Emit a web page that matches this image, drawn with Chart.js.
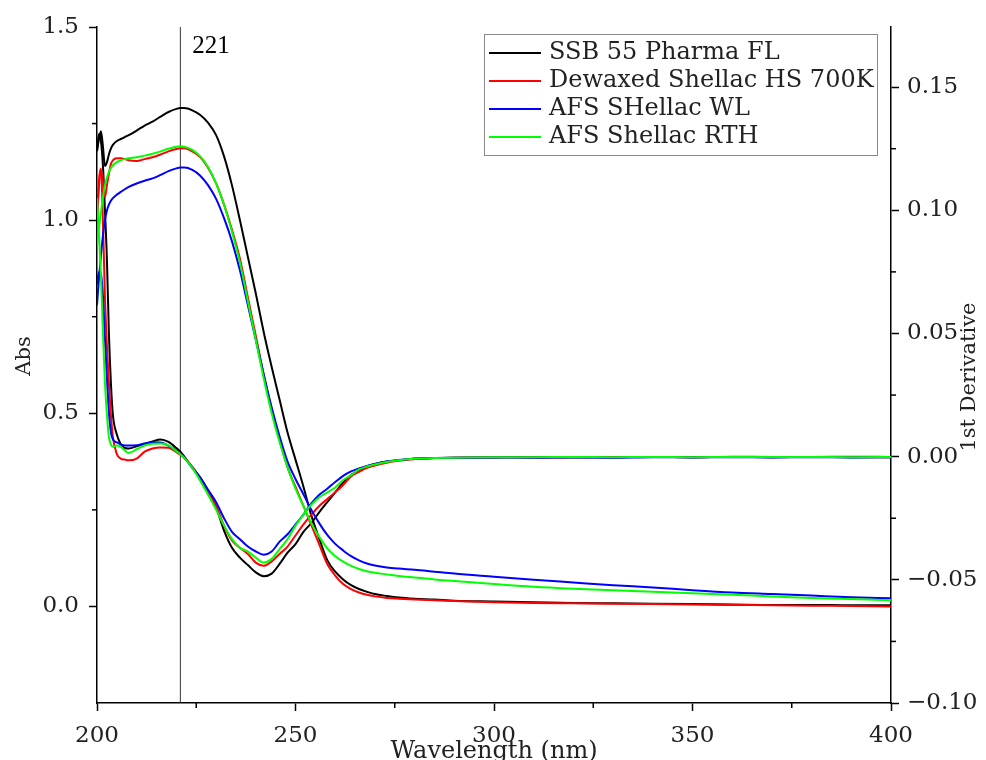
<!DOCTYPE html>
<html>
<head>
<meta charset="utf-8">
<script src="https://cdn.jsdelivr.net/npm/chart.js@4.4.0/dist/chart.umd.min.js"></script>
<style>
body{margin:0;background:#fff}
#wrap{width:986px;height:760px;position:relative}
</style>
</head>
<body>
<div id="wrap"><canvas id="myChart"></canvas></div>
<script>

// wavelength grid (nm), shared by all curves
const wavelength=[200,200.5,201,201.5,202,202.5,203,203.5,204,205,206,207,208,210,212,214,216,218,220,221,222,224,226,228,230,232,234,236,238,240,242,244,246,248,250,252,254,256,258,260,262,264,266,268,270,273,276,280,285,290,300,310,320,330,340,350,360,370,380,390,400]

// absorbance (left axis)
const absSSB=[1.18,1.21,1.23,1.19,1.14,1.15,1.17,1.185,1.195,1.205,1.21,1.215,1.22,1.232,1.245,1.255,1.268,1.28,1.288,1.29,1.29,1.284,1.272,1.252,1.22,1.165,1.09,1.0,0.905,0.81,0.71,0.62,0.535,0.45,0.38,0.31,0.235,0.175,0.12,0.09,0.07,0.055,0.045,0.038,0.032,0.027,0.023,0.02,0.018,0.015,0.013,0.011,0.009,0.008,0.007,0.006,0.005,0.004,0.004,0.003,0.003]
const absDewaxed=[1.0,1.09,1.13,1.1,1.06,1.09,1.12,1.145,1.155,1.16,1.16,1.158,1.155,1.153,1.158,1.163,1.17,1.178,1.184,1.186,1.186,1.178,1.163,1.135,1.095,1.04,0.975,0.9,0.8,0.7,0.6,0.51,0.43,0.36,0.31,0.26,0.21,0.16,0.11,0.08,0.058,0.045,0.036,0.03,0.026,0.022,0.02,0.018,0.016,0.014,0.011,0.009,0.008,0.007,0.006,0.005,0.004,0.003,0.002,0.001,0.0]
const absWL=[0.78,0.85,0.91,0.96,1.0,1.025,1.04,1.05,1.057,1.066,1.073,1.08,1.086,1.095,1.102,1.108,1.117,1.127,1.134,1.136,1.136,1.13,1.115,1.09,1.055,1.005,0.945,0.87,0.78,0.69,0.6,0.515,0.44,0.375,0.33,0.29,0.25,0.215,0.185,0.162,0.145,0.13,0.119,0.111,0.106,0.101,0.098,0.095,0.09,0.085,0.077,0.069,0.062,0.055,0.049,0.042,0.036,0.032,0.028,0.024,0.021]
const absRTH=[0.93,0.98,1.02,1.06,1.09,1.11,1.125,1.135,1.142,1.15,1.155,1.158,1.16,1.163,1.167,1.172,1.178,1.185,1.19,1.191,1.19,1.182,1.165,1.137,1.095,1.04,0.97,0.89,0.79,0.69,0.59,0.5,0.425,0.36,0.305,0.26,0.215,0.18,0.15,0.13,0.116,0.105,0.097,0.091,0.087,0.083,0.079,0.075,0.07,0.066,0.058,0.051,0.046,0.042,0.038,0.034,0.03,0.026,0.022,0.019,0.016]

// 1st derivative (right axis)
const derSSB=[0.124,0.131,0.128,0.118,0.1,0.08,0.05,0.03,0.017,0.009,0.005,0.0035,0.0033,0.0042,0.0052,0.0062,0.007,0.006,0.0035,0.002,0.0,-0.0045,-0.0085,-0.014,-0.0205,-0.03,-0.037,-0.041,-0.044,-0.047,-0.0485,-0.0475,-0.0435,-0.039,-0.0355,-0.0305,-0.027,-0.0225,-0.0185,-0.0145,-0.0105,-0.0075,-0.0055,-0.004,-0.003,-0.002,-0.0015,-0.0008,-0.0006,-0.0004,-0.0003,-0.0002,-0.0003,-0.0002,-0.0001,-0.0002,-0.0001,-0.0002,-0.0001,-0.0002,-0.0002]
const derDewaxed=[0.095,0.112,0.117,0.095,0.065,0.045,0.03,0.017,0.008,0.001,-0.0008,-0.0012,-0.0015,-0.0008,0.002,0.0033,0.0037,0.0036,0.0018,0.0008,-0.0005,-0.004,-0.0088,-0.0145,-0.02,-0.028,-0.034,-0.037,-0.0395,-0.043,-0.0443,-0.0425,-0.0395,-0.0365,-0.032,-0.0275,-0.0235,-0.02,-0.0172,-0.0145,-0.0115,-0.008,-0.0062,-0.0045,-0.0036,-0.0025,-0.0016,-0.001,-0.0006,-0.0004,-0.0002,-0.0003,-0.0001,-0.0002,-0.0001,-0.0002,0.0,-0.0001,-0.0001,0.0,-0.0001]
const derWL=[0.07,0.075,0.074,0.065,0.048,0.032,0.018,0.01,0.007,0.0058,0.005,0.0045,0.0045,0.0046,0.0053,0.0058,0.0057,0.0045,0.0025,0.0012,-0.0005,-0.0045,-0.0085,-0.0135,-0.0185,-0.025,-0.0305,-0.0335,-0.0365,-0.0385,-0.0398,-0.0385,-0.0345,-0.0315,-0.0275,-0.0235,-0.019,-0.0155,-0.013,-0.0103,-0.0078,-0.006,-0.0048,-0.0038,-0.003,-0.002,-0.0014,-0.0009,-0.0006,-0.0004,-0.0003,-0.0004,-0.0002,-0.0004,-0.0002,-0.0003,-0.0002,-0.0003,-0.0002,-0.0003,-0.0002]
const derRTH=[0.105,0.09,0.073,0.05,0.03,0.017,0.008,0.005,0.004,0.0045,0.004,0.0025,0.0015,0.003,0.0045,0.0052,0.0053,0.0046,0.0022,0.001,-0.0005,-0.0045,-0.0098,-0.0155,-0.0215,-0.028,-0.0335,-0.037,-0.0385,-0.041,-0.043,-0.0415,-0.0375,-0.0335,-0.028,-0.0235,-0.0195,-0.0165,-0.0145,-0.0125,-0.0095,-0.0075,-0.0052,-0.004,-0.0032,-0.0022,-0.0015,-0.0009,-0.0006,-0.0004,-0.0002,-0.0002,-0.0001,-0.0002,-0.0001,-0.0002,-0.0001,-0.0001,-0.0001,-0.0002,-0.0001]

const nombres=['SSB 55 Pharma FL','Dewaxed Shellac HS 700K','AFS SHellac WL','AFS Shellac RTH']
const colores=['#000000','#ff0000','#0000ff','#00ff00']
const marca=221

const fuente='"DejaVu Serif", serif'

function puntos(arr){
  return wavelength.map((w,i)=>({x:w,y:arr[i]}))
}

function serie(arr,i,eje){
  return {
    label:nombres[i],
    data:puntos(arr),
    borderColor:colores[i],
    backgroundColor:colores[i],
    borderWidth:2,
    pointRadius:0,
    cubicInterpolationMode:'monotone',
    yAxisID:eje,
    order:4-i
  }
}

const extras={
  id:'extras',
  beforeDatasetsDraw(chart){
    const ctx=chart.ctx
    const a=chart.chartArea
    const px=chart.scales.x.getPixelForValue(marca)
    ctx.save()
    ctx.strokeStyle='#333'
    ctx.lineWidth=1
    ctx.beginPath()
    ctx.moveTo(px,a.top)
    ctx.lineTo(px,a.bottom)
    ctx.stroke()
    ctx.fillStyle='#000'
    ctx.font='25px "Liberation Serif", serif'
    ctx.textAlign='left'
    ctx.textBaseline='middle'
    ctx.fillText(String(marca),px+12,a.top+19)
    ctx.restore()
  },
  afterDraw(chart){
    const ctx=chart.ctx
    const a=chart.chartArea
    ctx.save()

    // minor ticks (half way between major ones)
    ctx.strokeStyle='#000'
    ctx.lineWidth=1.5
    const menores=(sc,dibuja)=>{
      for(let k=0;k<sc.ticks.length-1;k++){
        const v=(sc.ticks[k].value+sc.ticks[k+1].value)/2
        dibuja(sc.getPixelForValue(v))
      }
    }
    menores(chart.scales.x,p=>{ctx.beginPath();ctx.moveTo(p,a.bottom);ctx.lineTo(p,a.bottom+5);ctx.stroke()})
    menores(chart.scales.yAbs,p=>{ctx.beginPath();ctx.moveTo(a.left,p);ctx.lineTo(a.left-5,p);ctx.stroke()})
    menores(chart.scales.yDer,p=>{ctx.beginPath();ctx.moveTo(a.right,p);ctx.lineTo(a.right+5,p);ctx.stroke()})

    // legend box
    const bx=a.right-407, by=a.top+7, bw=393, bh=121
    ctx.fillStyle='#fff'
    ctx.fillRect(bx,by,bw,bh)
    ctx.strokeStyle='#8a8a8a'
    ctx.lineWidth=1
    ctx.strokeRect(bx+0.5,by+0.5,bw,bh)
    ctx.font='24px '+fuente
    ctx.textBaseline='middle'
    ctx.textAlign='left'
    for(let i=0;i<nombres.length;i++){
      const yy=by+19+i*28
      ctx.strokeStyle=colores[i]
      ctx.lineWidth=2
      ctx.beginPath()
      ctx.moveTo(bx+5,yy)
      ctx.lineTo(bx+57,yy)
      ctx.stroke()
      ctx.fillStyle='#222'
      ctx.fillText(nombres[i],bx+65,yy)
    }

    // axis titles
    ctx.fillStyle='#222'
    ctx.textAlign='center'
    ctx.font='24px '+fuente
    ctx.fillText('Wavelength (nm)',(a.left+a.right)/2,752)
    ctx.font='21px '+fuente
    ctx.save()
    ctx.translate(25,356)
    ctx.rotate(-Math.PI/2)
    ctx.fillText('Abs',0,0)
    ctx.restore()
    ctx.save()
    ctx.translate(970,377)
    ctx.rotate(-Math.PI/2)
    ctx.fillText('1st Derivative',0,0)
    ctx.restore()

    ctx.restore()
  }
}

function menos(s){
  return s.replace('-','\u2212')
}

function grafico(){
  const ctx=document.getElementById('myChart')
  const tickFont={family:fuente,size:23}
  new Chart(ctx,{
    type:'line',
    data:{
      datasets:[
        serie(absSSB,0,'yAbs'),
        serie(absDewaxed,1,'yAbs'),
        serie(absWL,2,'yAbs'),
        serie(absRTH,3,'yAbs'),
        serie(derSSB,0,'yDer'),
        serie(derDewaxed,1,'yDer'),
        serie(derWL,2,'yDer'),
        serie(derRTH,3,'yDer')
      ]
    },
    options:{
      responsive:true,
      maintainAspectRatio:false,
      animation:false,
      layout:{padding:{top:27,left:0,right:0,bottom:0}},
      plugins:{legend:{display:false},tooltip:{enabled:false}},
      scales:{
        x:{
          type:'linear',
          position:'bottom',
          min:200,max:400,
          afterFit(sc){sc.height=57},
          ticks:{stepSize:50,color:'#222',font:tickFont,padding:11,maxRotation:0},
          grid:{drawOnChartArea:false,tickLength:8,color:'#000',tickWidth:1.5},
          border:{display:true,color:'#000',width:1.5}
        },
        yAbs:{
          type:'linear',
          position:'left',
          min:-0.25,max:1.5,
          afterFit(sc){sc.width=97},
          ticks:{
            stepSize:0.5,
            includeBounds:false,
            color:'#222',font:tickFont,padding:10,
            callback:v=>menos(v.toFixed(1))
          },
          grid:{drawOnChartArea:false,tickLength:8,color:'#000',tickWidth:1.5},
          border:{display:true,color:'#000',width:1.5}
        },
        yDer:{
          type:'linear',
          position:'right',
          min:-0.1,max:0.1744,
          afterFit(sc){sc.width=95},
          ticks:{
            stepSize:0.05,
            includeBounds:false,
            color:'#222',font:tickFont,padding:8,
            callback:v=>Math.abs(v)<1e-9?'0.00':menos(v.toFixed(2))
          },
          grid:{drawOnChartArea:false,tickLength:8,color:'#000',tickWidth:1.5},
          border:{display:true,color:'#000',width:1.5}
        }
      }
    },
    plugins:[extras]
  })
}

grafico()
</script>
</body>
</html>
